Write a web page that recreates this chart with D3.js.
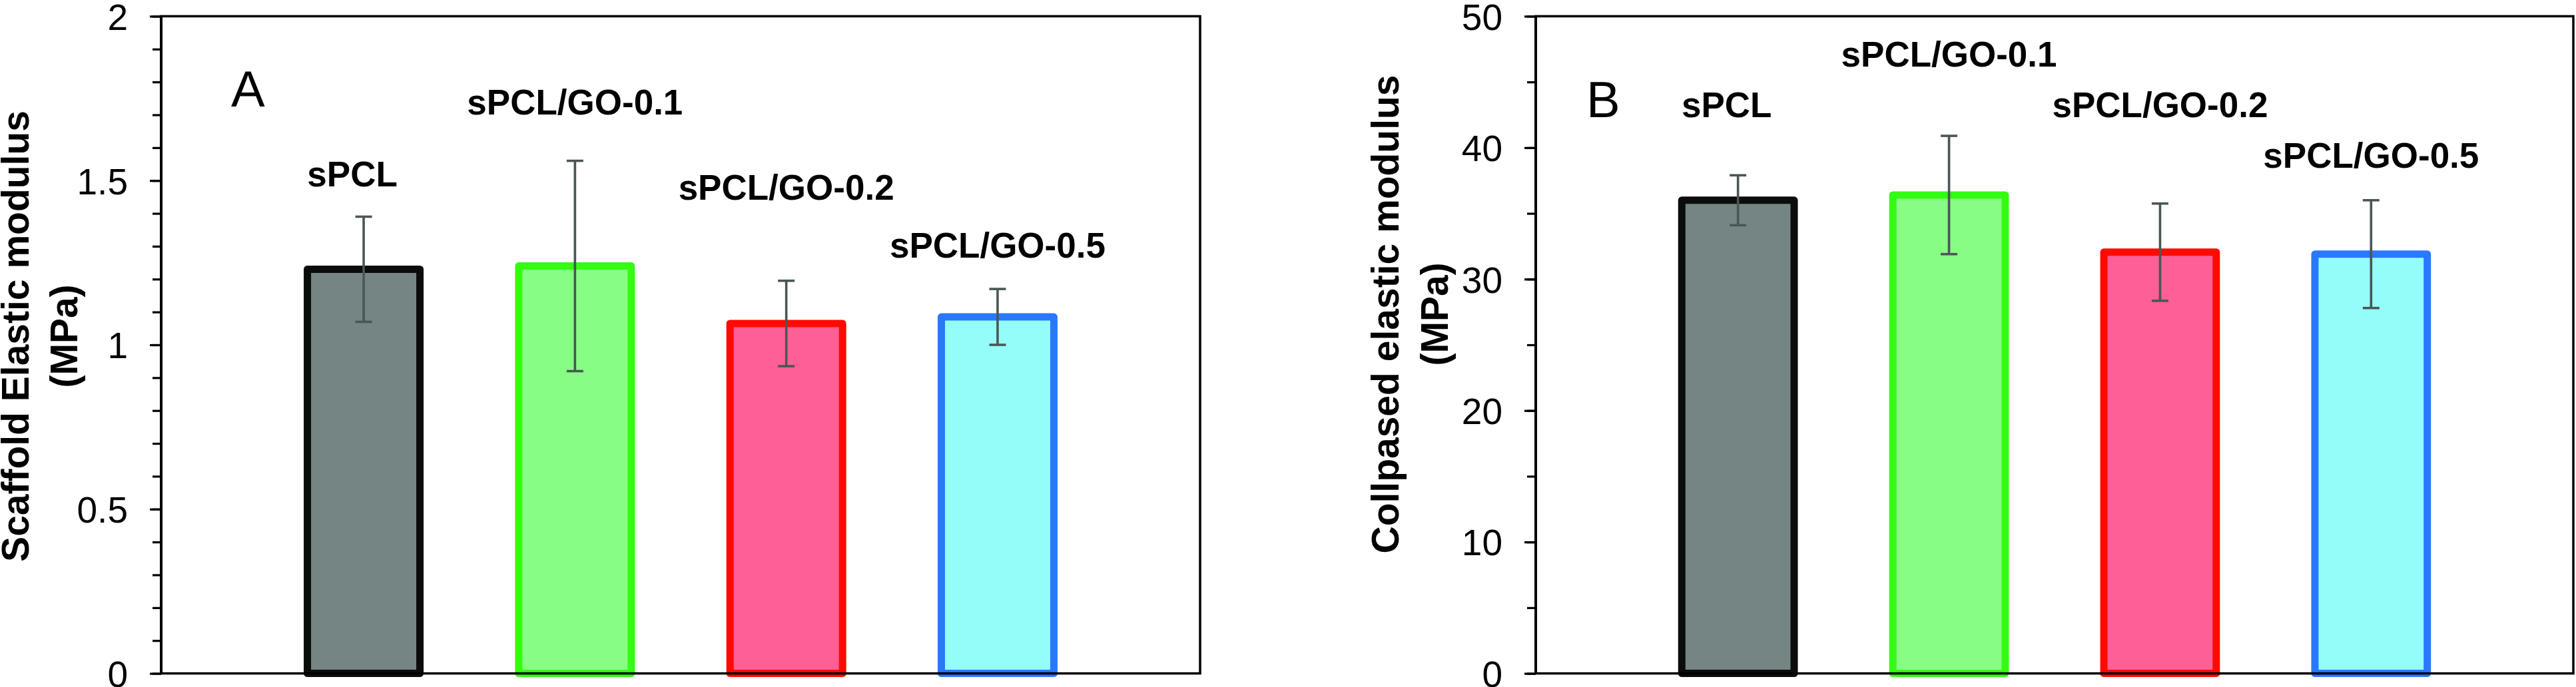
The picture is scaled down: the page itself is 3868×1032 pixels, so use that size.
<!DOCTYPE html>
<html>
<head>
<meta charset="utf-8">
<script src="https://cdn.jsdelivr.net/npm/d3@7"></script>
<style>
  html, body { margin: 0; padding: 0; background: #ffffff; }
  svg { display: block; }
  text { font-family: "Liberation Sans", Arial, Helvetica, sans-serif; fill: #000; }
</style>
</head>
<body>
<svg id="chart" width="3868" height="1032"></svg>
<script>
// ---------------- DATA ----------------
const categories = ["sPCL", "sPCL/GO-0.1", "sPCL/GO-0.2", "sPCL/GO-0.5"];

// Panel A: scaffold elastic modulus (MPa)
const scaffoldModulus = [1.23, 1.24, 1.065, 1.085];
const scaffoldError   = [0.16, 0.32, 0.13, 0.085];
const scaffoldTickValues = [0, 0.5, 1, 1.5, 2];
const scaffoldTickLabels = ["0", "0.5", "1", "1.5", "2"];

// Panel B: collapsed elastic modulus (MPa)
const collapsedModulus = [36.0, 36.4, 32.05, 31.9];
const collapsedError   = [1.9, 4.5, 3.7, 4.1];
const collapsedTickValues = [0, 10, 20, 30, 40, 50];
const collapsedTickLabels = ["0", "10", "20", "30", "40", "50"];

// ---------------- STYLE / LAYOUT ----------------
const fillColors   = ["#748583", "#88fd86", "#fe5f97", "#94fdf9"];
const strokeColors = ["#0b0d0b", "#33fc12", "#ff0a00", "#2a78ff"];
const errorColor = "#4b5656";

const svg = d3.select("#chart");

function drawPanel(cfg) {
  const g = svg.append("g");
  const top = 24.4, bottom = 1011.6;

  const x = d3.scaleBand()
    .domain(categories)
    .range([cfg.left, cfg.right])
    .paddingInner(0.4674)
    .paddingOuter(0.692);

  const y = d3.scaleLinear().domain(cfg.domain).range([bottom, top]);

  // bars
  g.selectAll("rect.bar")
    .data(categories)
    .enter().append("rect")
    .attr("class", "bar")
    .attr("x", d => x(d))
    .attr("width", x.bandwidth())
    .attr("y", (d, i) => y(cfg.values[i]))
    .attr("height", (d, i) => y(0) - y(cfg.values[i]))
    .attr("fill", (d, i) => fillColors[i])
    .attr("stroke", (d, i) => strokeColors[i])
    .attr("stroke-width", 11)
    .attr("stroke-linejoin", "round");

  // error bars
  const eb = g.selectAll("g.err")
    .data(categories)
    .enter().append("g")
    .attr("class", "err")
    .attr("stroke", errorColor)
    .attr("stroke-width", 3.6);
  eb.append("line")
    .attr("x1", d => x(d) + x.bandwidth() / 2)
    .attr("x2", d => x(d) + x.bandwidth() / 2)
    .attr("y1", (d, i) => y(cfg.values[i] + cfg.errors[i]))
    .attr("y2", (d, i) => y(cfg.values[i] - cfg.errors[i]));
  [1, -1].forEach(sign => {
    eb.append("line")
      .attr("x1", d => x(d) + x.bandwidth() / 2 - 12.5)
      .attr("x2", d => x(d) + x.bandwidth() / 2 + 12.5)
      .attr("y1", (d, i) => y(cfg.values[i] + sign * cfg.errors[i]))
      .attr("y2", (d, i) => y(cfg.values[i] + sign * cfg.errors[i]));
  });

  // frame (top, right, bottom)
  g.append("rect")
    .attr("x", cfg.left).attr("y", top)
    .attr("width", cfg.right - cfg.left).attr("height", bottom - top)
    .attr("fill", "none").attr("stroke", "#000").attr("stroke-width", 3.5);

  // minor ticks
  const minorAxis = d3.axisLeft(y)
    .tickValues(d3.range(cfg.domain[0], cfg.domain[1] + cfg.minorStep / 2, cfg.minorStep))
    .tickSize(13).tickFormat("");
  const gm = g.append("g").attr("transform", `translate(${cfg.left},0)`).call(minorAxis);
  gm.select(".domain").remove();
  gm.selectAll(".tick line").attr("stroke", "#000").attr("stroke-width", 3.2);

  // major ticks + labels
  const majorAxis = d3.axisLeft(y)
    .tickValues(cfg.tickValues)
    .tickSize(17).tickPadding(33)
    .tickFormat((d, i) => cfg.tickLabels[i]);
  const ga = g.append("g").attr("transform", `translate(${cfg.left},0)`).call(majorAxis);
  ga.select(".domain").attr("stroke", "#000").attr("stroke-width", 4).attr("d", `M0,${top}V${bottom}`);
  ga.selectAll(".tick line").attr("stroke", "#000").attr("stroke-width", 3.2);
  ga.selectAll(".tick text")
    .attr("font-size", 55)
    .attr("font-family", '"Liberation Sans", Arial, sans-serif')
    .attr("fill", "#000")
    .attr("dy", "0.36em");

  // category labels above bars
  g.selectAll("text.cat")
    .data(categories)
    .enter().append("text")
    .attr("class", "cat")
    .attr("x", (d, i) => x(d) + x.bandwidth() / 2 + (i === 0 ? -17 : 0))
    .attr("y", (d, i) => cfg.labelY[i])
    .attr("text-anchor", "middle")
    .attr("font-size", 53)
    .attr("font-weight", "bold")
    .text(d => d);

  // panel letter
  g.append("text")
    .attr("x", cfg.letterX).attr("y", cfg.letterY)
    .attr("font-size", 76)
    .text(cfg.letter);

  // y-axis title (two lines)
  cfg.title.forEach((line, k) => {
    g.append("text")
      .attr("transform", `translate(${cfg.titleX[k]},${cfg.titleCY}) rotate(-90)`)
      .attr("text-anchor", "middle")
      .attr("font-size", 57)
      .attr("font-weight", "bold")
      .text(line);
  });
}

drawPanel({
  left: 242, right: 1802,
  domain: [0, 2], minorStep: 0.1,
  values: scaffoldModulus, errors: scaffoldError,
  tickValues: scaffoldTickValues, tickLabels: scaffoldTickLabels,
  labelY: [280, 172, 299.5, 387],
  letter: "A", letterX: 347, letterY: 160,
  title: ["Scaffold Elastic modulus", "(MPa)"],
  titleX: [43, 116], titleCY: 505
});

drawPanel({
  left: 2306, right: 3864,
  domain: [0, 50], minorStep: 5,
  values: collapsedModulus, errors: collapsedError,
  tickValues: collapsedTickValues, tickLabels: collapsedTickLabels,
  labelY: [176.4, 100, 176.4, 252],
  letter: "B", letterX: 2382, letterY: 176,
  title: ["Collpased elastic modulus", "(MPa)"],
  titleX: [2100, 2174], titleCY: 472
});
</script>
</body>
</html>
